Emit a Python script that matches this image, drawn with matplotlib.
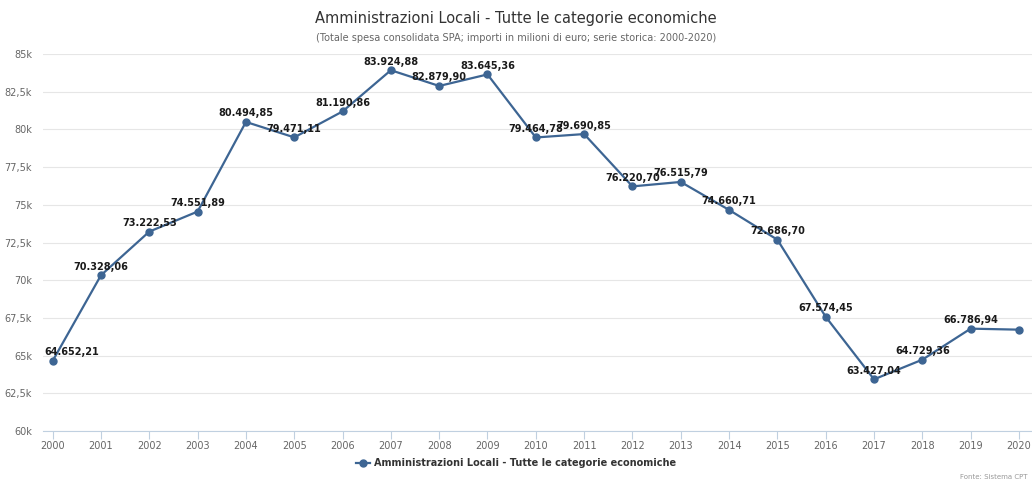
import matplotlib
matplotlib.use('Agg')
import matplotlib.pyplot as plt
from matplotlib.ticker import FuncFormatter

anni = list(range(2000, 2021))
spesa = [64652.21, 70328.06, 73222.53, 74551.89, 80494.85, 79471.11, 81190.86,
         83924.88, 82879.90, 83645.36, 79464.78, 79690.85, 76220.70, 76515.79,
         74660.71, 72686.70, 67574.45, 63427.04, 64729.36, 66786.94, 66720.00]
# l'ultimo anno non ha etichetta
etichettati = [True] * 20 + [False]
y_ticks = [60000, 62500, 65000, 67500, 70000, 72500, 75000, 77500, 80000, 82500, 85000]

colore = '#3d6593'


def formato_it(v):
    s = f'{v:,.2f}'
    return s.replace(',', 'X').replace('.', ',').replace('X', '.')


def formato_k(v, pos):
    k = v / 1000
    if k == int(k):
        return f'{int(k)}k'
    return f'{k:.1f}k'.replace('.', ',')


fig = plt.figure(figsize=(10.32, 4.8), dpi=100)
ax = fig.add_axes([43 / 1032, 1 - 431 / 480, 989 / 1032, (431 - 54) / 480])

ax.plot(anni, spesa, color=colore, lw=1.6, marker='o', ms=5, zorder=3, clip_on=False)

for anno, val, ok in zip(anni, spesa, etichettati):
    if not ok:
        continue
    ha = 'left' if anno == anni[0] else 'center'
    dx = -6 if anno == anni[0] else 0
    ax.annotate(formato_it(val), (anno, val), xytext=(dx, 2.5), textcoords='offset points',
                ha=ha, va='bottom', fontsize=7, fontweight='semibold', color='#1a1a1a', zorder=4)

ax.set_xlim(1999.8, 2020.27)
ax.set_ylim(60000, 85000)
ax.set_yticks(y_ticks)
ax.yaxis.set_major_formatter(FuncFormatter(formato_k))
ax.set_xticks(anni)
ax.set_xticklabels([str(a) for a in anni])

ax.grid(axis='y', color='#e6e6e6', lw=0.8)
ax.set_axisbelow(True)
for lato in ['top', 'right', 'left']:
    ax.spines[lato].set_visible(False)
ax.spines['bottom'].set_color('#c0d0e0')
ax.tick_params(axis='y', length=0, labelsize=7, labelcolor='#666666', pad=8)
ax.tick_params(axis='x', length=6, color='#c0d0e0', labelsize=7, labelcolor='#666666', pad=1)

fig.text(0.5, 1 - 18 / 480, 'Amministrazioni Locali - Tutte le categorie economiche',
         ha='center', va='center', fontsize=10.5, color='#333333')
fig.text(0.5, 1 - 38 / 480, '(Totale spesa consolidata SPA; importi in milioni di euro; serie storica: 2000-2020)',
         ha='center', va='center', fontsize=7, color='#666666')

ax.legend(['Amministrazioni Locali - Tutte le categorie economiche'],
          loc='center', bbox_to_anchor=(0.5, 1 - 463 / 480), bbox_transform=fig.transFigure,
          frameon=False, prop={'size': 7, 'weight': 'bold'}, labelcolor='#333333',
          handlelength=1.4, handletextpad=0.4)

fig.text(1028 / 1032, 1 - 477 / 480, 'Fonte: Sistema CPT', ha='right', va='center',
         fontsize=5, color='#999999')

fig.savefig('out.png', dpi=100)
